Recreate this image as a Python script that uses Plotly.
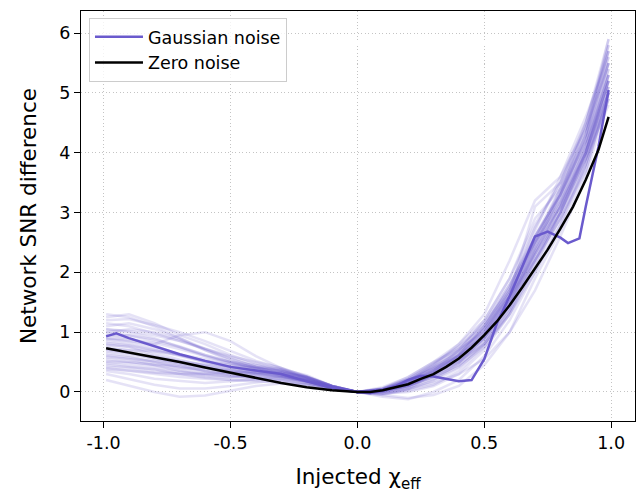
import plotly.graph_objects as go

# ---- data ----
x_grid = [-0.99, -0.9, -0.8, -0.7, -0.6, -0.5, -0.4, -0.3, -0.2, -0.1, 0.0,
          0.1, 0.2, 0.3, 0.4, 0.5, 0.6, 0.7, 0.8, 0.9, 0.99]

noise_runs = [
    [1.25,1.3,1.15,0.95,0.8,0.62,0.48,0.36,0.22,0.1,0,-0.05,0.05,0.3,0.62,1.1,1.8,2.6,3.3,4.2,5.5],
    [0.45,0.42,0.38,0.33,0.3,0.28,0.26,0.22,0.15,0.06,0,0.02,0.12,0.35,0.7,1.2,1.9,2.8,3.5,4.5,5.8],
    [0.9,0.85,0.8,0.95,1.0,0.85,0.6,0.4,0.22,0.08,0,0.05,0.2,0.4,0.6,0.95,1.6,2.3,3.0,4.0,5.2],
    [0.6,0.55,0.45,0.35,0.28,0.25,0.3,0.32,0.25,0.1,0,-0.08,-0.12,0.0,0.2,0.6,1.2,2.0,2.8,3.8,5.0],
    [1.05,1.0,0.9,0.75,0.6,0.5,0.45,0.38,0.25,0.1,0,0.08,0.25,0.5,0.8,1.2,1.9,2.9,3.4,4.3,5.9],
    [0.35,0.3,0.22,0.18,0.15,0.18,0.22,0.25,0.2,0.08,0,0.0,0.1,0.25,0.45,0.8,1.4,2.2,3.0,3.9,4.8],
    [0.8,0.75,0.62,0.5,0.45,0.42,0.4,0.35,0.25,0.1,0,0.03,0.15,0.35,0.55,0.9,1.5,2.4,3.2,4.1,5.3],
    [1.1,1.15,1.05,0.9,0.7,0.55,0.42,0.3,0.18,0.07,0,0.04,0.18,0.45,0.75,1.15,1.7,2.5,3.1,4.0,5.1],
    [0.55,0.5,0.45,0.4,0.38,0.36,0.33,0.28,0.18,0.07,0,-0.02,0.05,0.15,0.3,0.55,1.0,1.7,2.6,3.6,4.9],
    [0.95,0.9,0.78,0.62,0.52,0.45,0.4,0.35,0.24,0.09,0,0.02,0.15,0.38,0.6,0.95,1.55,2.5,3.3,4.2,5.4],
    [0.7,0.65,0.55,0.45,0.35,0.28,0.22,0.18,0.12,0.05,0,0.06,0.22,0.45,0.7,1.05,1.6,2.2,2.9,3.7,5.0],
    [1.3,1.25,1.1,0.9,0.72,0.58,0.45,0.35,0.22,0.09,0,0.03,0.12,0.28,0.5,0.85,1.5,2.4,3.3,4.5,5.7],
    [0.4,0.35,0.3,0.25,0.22,0.2,0.2,0.22,0.18,0.08,0,-0.05,-0.1,-0.05,0.1,0.45,1.0,1.9,2.7,3.7,5.0],
    [0.85,0.8,0.7,0.6,0.5,0.45,0.42,0.38,0.28,0.1,0,0.04,0.2,0.42,0.65,1.0,1.6,2.6,3.3,4.1,5.2],
    [0.65,0.6,0.5,0.42,0.35,0.3,0.28,0.25,0.18,0.08,0,0.03,0.15,0.35,0.65,1.1,1.75,2.7,3.6,4.6,5.6],
    [1.0,0.95,0.85,0.75,0.62,0.5,0.38,0.27,0.16,0.06,0,0.02,0.1,0.3,0.55,0.9,1.45,2.2,2.9,3.8,4.9],
    [0.5,0.48,0.42,0.36,0.3,0.26,0.24,0.2,0.14,0.06,0,0.05,0.18,0.4,0.7,1.15,1.8,2.5,3.2,4.0,5.1],
    [1.15,1.1,0.98,0.85,0.72,0.6,0.5,0.4,0.26,0.1,0,0.03,0.14,0.32,0.52,0.8,1.3,2.0,2.8,3.8,5.3],
    [0.75,0.7,0.6,0.52,0.46,0.4,0.34,0.28,0.2,0.08,0,0.01,0.1,0.28,0.55,0.95,1.6,2.4,3.1,4.0,5.2],
    [0.9,0.88,0.82,0.72,0.6,0.48,0.38,0.3,0.2,0.08,0,0.06,0.25,0.5,0.72,1.0,1.6,2.5,3.4,4.4,5.5],
    [0.58,0.55,0.52,0.48,0.42,0.36,0.3,0.25,0.18,0.07,0,0.0,0.08,0.22,0.42,0.75,1.3,2.1,3.0,4.0,5.4],
    [1.0,1.05,1.0,0.88,0.7,0.52,0.4,0.33,0.24,0.1,0,0.04,0.16,0.36,0.62,1.05,1.7,2.6,3.3,4.2,5.6],
    [0.48,0.44,0.38,0.3,0.24,0.2,0.18,0.16,0.12,0.05,0,0.02,0.12,0.3,0.5,0.85,1.4,2.3,3.1,4.1,5.3],
    [0.82,0.78,0.7,0.62,0.55,0.48,0.42,0.36,0.26,0.1,0,0.03,0.16,0.4,0.68,1.05,1.65,2.5,3.2,4.3,5.8],
    [0.68,0.64,0.56,0.48,0.4,0.34,0.3,0.27,0.2,0.08,0,-0.03,0.02,0.12,0.35,0.75,1.35,2.2,3.0,4.0,5.1],
    [1.2,1.22,1.12,1.0,0.85,0.68,0.52,0.4,0.26,0.1,0,0.05,0.2,0.45,0.8,1.3,2.2,3.2,3.6,4.4,5.7],
    [0.38,0.36,0.32,0.3,0.3,0.32,0.34,0.32,0.24,0.1,0,0.03,0.14,0.34,0.6,1.0,1.7,2.6,3.4,4.3,5.5],
    [0.72,0.7,0.68,0.62,0.52,0.42,0.36,0.32,0.25,0.1,0,0.02,0.1,0.26,0.5,0.9,1.5,2.35,3.1,4.0,5.2],
    [0.88,0.84,0.74,0.62,0.5,0.4,0.32,0.26,0.18,0.07,0,0.04,0.18,0.4,0.62,0.95,1.5,2.3,3.0,3.9,5.0],
    [0.62,0.58,0.5,0.4,0.34,0.32,0.32,0.3,0.22,0.09,0,-0.02,0.04,0.2,0.48,0.92,1.55,2.45,3.3,4.3,5.7],
    [1.05,1.02,0.95,0.85,0.72,0.56,0.42,0.3,0.2,0.08,0,0.06,0.22,0.48,0.76,1.1,1.65,3.1,3.5,4.4,5.5],
    [0.52,0.5,0.46,0.44,0.4,0.38,0.36,0.3,0.2,0.08,0,0.01,0.1,0.3,0.58,1.0,1.65,2.55,3.35,4.2,5.3],
    [0.78,0.76,0.66,0.54,0.44,0.36,0.3,0.26,0.2,0.08,0,0.03,0.15,0.35,0.58,0.9,1.45,2.3,3.1,4.0,5.0],
    [0.95,0.95,0.88,0.76,0.62,0.5,0.4,0.34,0.24,0.09,0,0.02,0.12,0.32,0.62,1.08,1.75,2.75,3.5,4.5,5.9],
    [0.42,0.4,0.34,0.3,0.26,0.24,0.26,0.26,0.2,0.08,0,0.0,0.06,0.18,0.4,0.8,1.45,2.35,3.15,4.1,5.2],
    [0.2,0.1,0.0,-0.08,-0.06,0.02,0.1,0.14,0.12,0.05,0,0.02,0.1,0.25,0.45,0.8,1.35,2.2,3.0,3.9,4.9],
    [0.3,0.22,0.12,0.06,0.06,0.1,0.16,0.2,0.16,0.06,0,-0.03,0.0,0.1,0.3,0.7,1.3,2.1,2.9,3.9,5.0],
]

gauss_x = [-0.99, -0.95, -0.9, -0.8, -0.7, -0.6, -0.5, -0.4, -0.3, -0.2, -0.1, 0.0,
           0.05, 0.1, 0.15, 0.2, 0.25, 0.3, 0.35, 0.4, 0.45, 0.5, 0.55, 0.6, 0.65,
           0.7, 0.75, 0.8, 0.83, 0.875, 0.9, 0.95, 0.99]
gauss_y = [0.93, 0.98, 0.9, 0.76, 0.63, 0.52, 0.42, 0.36, 0.3, 0.18, 0.07, 0.0,
           -0.02, 0.03, 0.1, 0.2, 0.27, 0.26, 0.22, 0.18, 0.2, 0.55, 1.15, 1.6, 2.1,
           2.6, 2.68, 2.58, 2.49, 2.57, 3.1, 4.1, 5.05]

zero_x = [-0.99, -0.9, -0.8, -0.7, -0.6, -0.5, -0.4, -0.3, -0.2, -0.1, 0.0, 0.05,
          0.1, 0.15, 0.2, 0.25, 0.3, 0.35, 0.4, 0.45, 0.5, 0.55, 0.6, 0.65, 0.7,
          0.75, 0.8, 0.85, 0.9, 0.95, 0.99]
zero_y = [0.73, 0.66, 0.58, 0.50, 0.41, 0.32, 0.24, 0.15, 0.08, 0.03, 0.0, 0.0,
          0.03, 0.08, 0.13, 0.22, 0.3, 0.42, 0.56, 0.74, 0.95, 1.18, 1.45, 1.75, 2.06,
          2.38, 2.73, 3.1, 3.55, 4.05, 4.6]

x_tickvals = [-1.0, -0.5, 0.0, 0.5, 1.0]
x_ticktext = ["-1.0", "-0.5", "0.0", "0.5", "1.0"]
y_tickvals = [0, 1, 2, 3, 4, 5, 6]

PURPLE = "#6a5acd"
FONT = "DejaVu Sans"

fig = go.Figure()
for run in noise_runs:
    fig.add_trace(go.Scatter(x=x_grid, y=run, mode="lines",
                             line=dict(color=PURPLE, width=2.5),
                             opacity=0.17, showlegend=False, hoverinfo="skip"))
fig.add_trace(go.Scatter(x=gauss_x, y=gauss_y, mode="lines", name="Gaussian noise",
                         line=dict(color=PURPLE, width=2.5)))
fig.add_trace(go.Scatter(x=zero_x, y=zero_y, mode="lines", name="Zero noise",
                         line=dict(color="black", width=2.5)))

axis_common = dict(showline=True, linecolor="black", linewidth=1.3, mirror=True,
                   ticks="outside", ticklen=6, tickwidth=1.3, tickcolor="black",
                   showgrid=True, gridcolor="#c4c4c4", gridwidth=1, griddash="1px,2.5px",
                   zeroline=False, tickfont=dict(family=FONT, size=17.5, color="black"))

fig.update_layout(
    width=642, height=493,
    margin=dict(l=81, r=7, t=11, b=72),
    paper_bgcolor="white", plot_bgcolor="white",
    font=dict(family=FONT, color="black"),
    xaxis=dict(range=[-1.089, 1.094], tickvals=x_tickvals, ticktext=x_ticktext,
               title=dict(text="Injected χ<sub>eff</sub>", font=dict(family=FONT, size=21.5),
                          standoff=19),
               **axis_common),
    yaxis=dict(range=[-0.485, 6.37], tickvals=y_tickvals,
               title=dict(text="Network SNR difference", font=dict(family=FONT, size=21.5),
                          standoff=16),
               **axis_common),
    legend=dict(x=0.0144, y=0.983, xanchor="left", yanchor="top",
                bgcolor="rgba(255,255,255,0.8)", bordercolor="#cccccc", borderwidth=1,
                font=dict(family=FONT, size=17.5), itemwidth=48, tracegroupgap=0),
)

fig.write_html("out.html")
